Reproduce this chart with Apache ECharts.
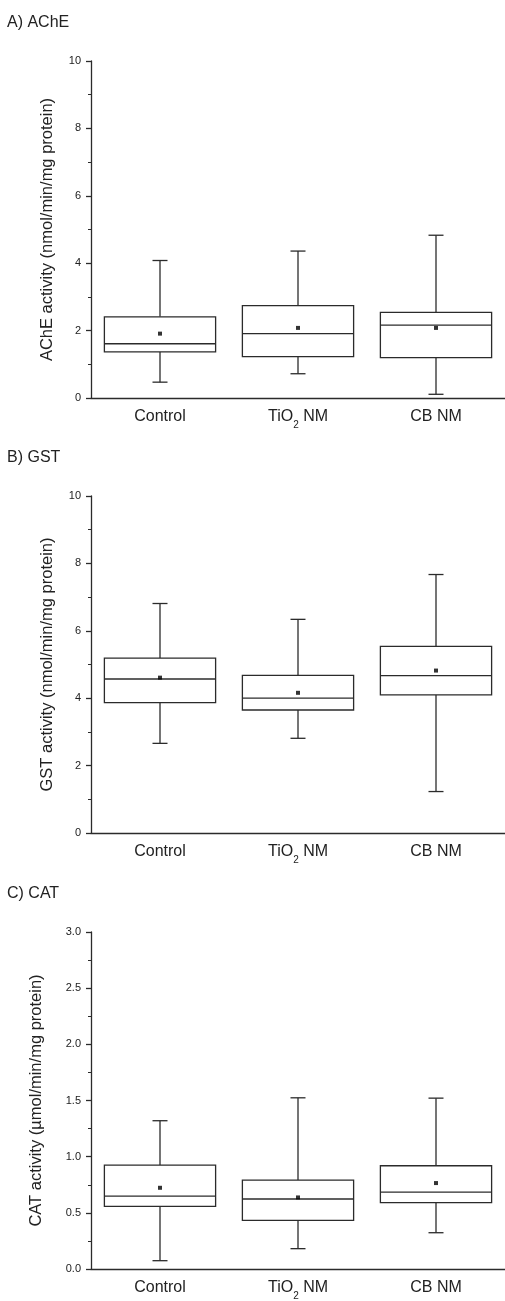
<!DOCTYPE html>
<html>
<head>
<meta charset="utf-8">
<script src="https://cdn.jsdelivr.net/npm/echarts@6/dist/echarts.min.js"></script>
<style>
  html, body { margin: 0; padding: 0; background: #fff; }
  #chart { width: 505px; height: 1301px; }
</style>
</head>
<body>
<div id="chart"></div>
<script>
// groups on the x axis
const categories = ['Control', 'TiO2 NM', 'CB NM'];

// box stats: [min, Q1, median, Q3, max]
const acheBox = [
  [0.47, 1.37, 1.61, 2.41, 4.08],
  [0.72, 1.23, 1.91, 2.74, 4.36],
  [0.11, 1.20, 2.16, 2.54, 4.83]
];
const acheMean = [1.91, 2.08, 2.08];

const gstBox = [
  [2.66, 3.87, 4.57, 5.19, 6.81],
  [2.81, 3.65, 4.00, 4.68, 6.34],
  [1.23, 4.10, 4.67, 5.54, 7.67]
];
const gstMean = [4.61, 4.16, 4.82];

const catBox = [
  [0.074, 0.557, 0.649, 0.925, 1.32],
  [0.181, 0.433, 0.623, 0.792, 1.524],
  [0.323, 0.590, 0.685, 0.919, 1.521]
];
const catMean = [0.723, 0.637, 0.765];

// y axis ranges
const acheTicks = { min: 0, max: 10, interval: 2 };
const gstTicks = { min: 0, max: 10, interval: 2 };
const catTicks = { min: 0, max: 3, interval: 0.5 };

const FONT = 'Liberation Sans, Arial, Helvetica, sans-serif';
const INK = '#2b2b2b';

const panels = [
  { title: 'A) AChE', titleTop: 15, top: 61, name: 'AChE activity (nmol/min/mg protein)', gap: 35, box: acheBox, mean: acheMean, ticks: acheTicks, dec: 0 },
  { title: 'B) GST', titleTop: 450, top: 496, name: 'GST activity (nmol/min/mg protein)', gap: 35, box: gstBox, mean: gstMean, ticks: gstTicks, dec: 0 },
  { title: 'C) CAT', titleTop: 886, top: 932, name: 'CAT activity (\u00b5mol/min/mg protein)', gap: 46, box: catBox, mean: catMean, ticks: catTicks, dec: 1 }
];

function renderBox(params, api) {
  const c = api.value(0);
  const pMin = api.coord([c, api.value(1)]);
  const pQ1 = api.coord([c, api.value(2)]);
  const pMed = api.coord([c, api.value(3)]);
  const pQ3 = api.coord([c, api.value(4)]);
  const pMax = api.coord([c, api.value(5)]);
  const half = api.size([1, 0])[0] * 0.403;
  const cap = 7.5;
  const x = pMed[0];
  const style = { stroke: INK, lineWidth: 1.3, fill: null };
  return {
    type: 'group',
    children: [
      { type: 'line', shape: { x1: x, y1: pQ3[1], x2: x, y2: pMax[1] }, style: style },
      { type: 'line', shape: { x1: x, y1: pQ1[1], x2: x, y2: pMin[1] }, style: style },
      { type: 'line', shape: { x1: x - cap, y1: pMax[1], x2: x + cap, y2: pMax[1] }, style: style },
      { type: 'line', shape: { x1: x - cap, y1: pMin[1], x2: x + cap, y2: pMin[1] }, style: style },
      { type: 'rect', shape: { x: x - half, y: pQ3[1], width: half * 2, height: pQ1[1] - pQ3[1] }, style: { stroke: INK, lineWidth: 1.3, fill: '#fff' } },
      { type: 'line', shape: { x1: x - half, y1: pMed[1], x2: x + half, y2: pMed[1] }, style: style }
    ]
  };
}

// category label with a real subscript for TiO2
function catLabel(v) {
  if (v === 'TiO2 NM') return '{m|TiO}{sub|2}{m| NM}';
  return '{m|' + v + '}';
}

const chart = echarts.init(document.getElementById('chart'), null, { renderer: 'canvas' });

const option = {
  animation: false,
  backgroundColor: '#fff',
  textStyle: { fontFamily: FONT },
  title: [],
  grid: [],
  xAxis: [],
  yAxis: [],
  series: []
};

panels.forEach((p, i) => {
  option.title.push({
    text: p.title, left: 7, top: p.titleTop, padding: 0,
    textStyle: { fontFamily: FONT, fontSize: 16, fontWeight: 'normal', color: '#222' }
  });
  option.grid.push({ left: 91, right: 0, top: p.top, height: 337 });
  option.xAxis.push({
    type: 'category', gridIndex: i, data: categories, boundaryGap: true,
    axisLine: { lineStyle: { color: INK, width: 1.3 } },
    axisTick: { alignWithLabel: true, length: 5, lineStyle: { color: INK, width: 1.3 } },
    axisLabel: {
      interval: 0, hideOverlap: false,
      margin: 3, color: '#222', fontFamily: FONT, fontSize: 16,
      formatter: catLabel,
      rich: {
        m: { fontSize: 16, fontFamily: FONT, color: '#222', lineHeight: 32 },
        sub: { fontSize: 10, fontFamily: FONT, color: '#222', lineHeight: 16, padding: [16, 0, 0, 0] }
      }
    },
    splitLine: { show: false }
  });
  option.yAxis.push({
    type: 'value', gridIndex: i,
    min: p.ticks.min, max: p.ticks.max, interval: p.ticks.interval,
    name: p.name, nameLocation: 'middle', nameGap: p.gap, nameRotate: 90,
    nameTextStyle: { fontFamily: FONT, fontSize: 16.5, color: '#222' },
    axisLine: { show: true, lineStyle: { color: INK, width: 1.3 } },
    axisTick: { show: true, length: 5, lineStyle: { color: INK, width: 1.3 } },
    minorTick: { show: true, splitNumber: 2, length: 3, lineStyle: { color: INK, width: 1 } },
    axisLabel: { margin: 10, color: '#222', fontFamily: FONT, fontSize: 11, formatter: v => v.toFixed(p.dec) },
    splitLine: { show: false },
    minorSplitLine: { show: false }
  });
  option.series.push({
    type: 'custom', xAxisIndex: i, yAxisIndex: i,
    renderItem: renderBox,
    encode: { x: 0, y: [1, 2, 3, 4, 5] },
    data: p.box.map((b, k) => [k].concat(b)),
    z: 2
  });
  option.series.push({
    type: 'scatter', xAxisIndex: i, yAxisIndex: i,
    symbol: 'rect', symbolSize: 4,
    itemStyle: { color: '#000' },
    data: p.mean.map((m, k) => [k, m]),
    z: 3
  });
});

chart.setOption(option);
</script>
</body>
</html>
